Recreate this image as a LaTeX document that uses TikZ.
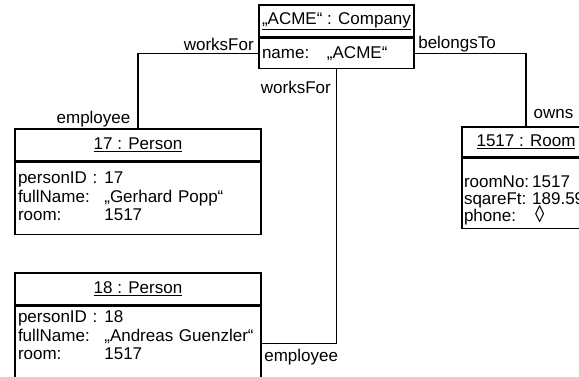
\documentclass[tikz,border=0pt]{standalone}
\usepackage{fontspec}
\setmainfont{Liberation Sans}
\usetikzlibrary{positioning}
\newcommand{\umlfont}{\fontsize{17}{18.5}\selectfont}
\newcommand{\roomfont}{\fontsize{17}{16.5}\selectfont}
\tikzset{
  objtitle/.style={draw, line width=1.3pt, inner sep=0pt, minimum height=32pt},
  objattr/.style={draw, line width=1.3pt, inner xsep=3pt, inner ysep=0pt, align=left, below=0pt of #1},
  conn/.style={line width=1.3pt},
  lbl/.style={inner sep=0pt},
}
\begin{document}
\begin{tikzpicture}[x=1pt,y=-1pt,font=\umlfont]
\useasboundingbox (0,0) rectangle (579,376);
\clip (0,0) rectangle (579,376);
%% objects
\node[objtitle, minimum width=155pt] (acmeT) at (336.5,21) {\underline{„ACME“ : Company}};
\node[objattr=acmeT, text width=149pt, minimum height=30pt] (acmeA) {\makebox[65pt][l]{name:}„ACME“};
\node[objtitle, minimum width=246pt] (p17T) at (138,145) {\underline{17 : Person}};
\node[objattr=p17T, text width=240pt, minimum height=72pt] (p17A) {%
  \begin{tabular}{@{}l@{\hspace{7pt}}l@{}}
  personID : & 17\\
  fullName: & „Gerhard Popp“\\
  room: & 1517
  \end{tabular}};
\node[objtitle, minimum width=246pt] (p18T) at (138,289) {\underline{18 : Person}};
\node[objattr=p18T, text width=240pt, minimum height=74pt] (p18A) {%
  \begin{tabular}{@{}l@{\hspace{7pt}}l@{}}
  personID : & 18\\
  fullName: & „Andreas Guenzler“\\
  room: & 1517\\[12pt]
  \end{tabular}};
\node[objtitle, minimum width=128pt, minimum height=30pt] (roomT) at (526,142) {\underline{1517 : Room}};
\node[objattr=roomT, inner xsep=2pt, text width=124pt, minimum height=70pt, font=\roomfont] (roomA) {%
  \begin{tabular}{@{}l@{\hspace{3pt}}l@{}}
  \rule{0pt}{27pt}roomNo: & 1517\\
  sqareFt: & 189.59\\
  phone: & \hspace{3pt}\smash{\raisebox{-1pt}{\scalebox{1.1}[1.4]{◊}}}
  \end{tabular}};
%% links
\draw[conn] (acmeA.west) node[lbl, above left=2pt and 4pt] {worksFor}
  -| (p17T.north) node[lbl, above left=1pt and 7pt] {employee};
\draw[conn] (acmeA.south) node[lbl, below left=12pt and 5pt] {worksFor}
  |- (p18A.east) node[lbl, below right=5pt and 2pt] {employee};
\draw[conn] (acmeA.east) node[lbl, above right=1pt and 3pt] {belongsTo}
  -| (roomT.north) node[lbl, above right=7pt and 7pt] {owns};
\end{tikzpicture}
\end{document}
